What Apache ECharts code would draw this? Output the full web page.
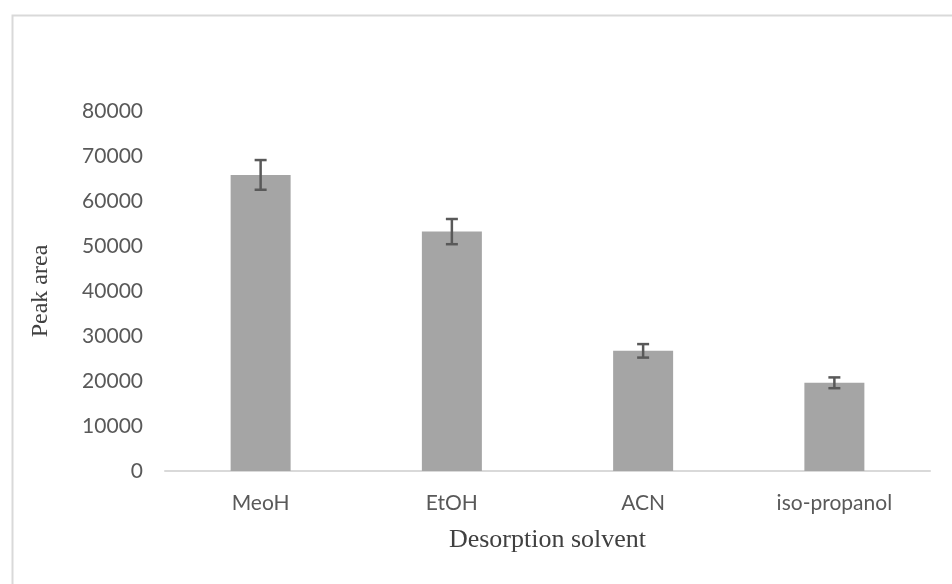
<!DOCTYPE html>
<html>
<head>
<meta charset="utf-8">
<script src="https://cdn.jsdelivr.net/npm/echarts@6/dist/echarts.min.js"></script>
<style>html,body{margin:0;padding:0;background:#fff}#c{width:952px;height:584px}</style>
</head>
<body>
<div id="c"></div>
<script>
var categories = ['MeoH', 'EtOH', 'ACN', 'iso-propanol'];
var peakArea = [65800, 53200, 26700, 19600];
var errorPlusMinus = [3300, 2800, 1500, 1200];
var yTicks = [0, 10000, 20000, 30000, 40000, 50000, 60000, 70000, 80000];

var chart = echarts.init(document.getElementById('c'));
var errData = categories.map(function (c, i) {
  return [i, peakArea[i] - errorPlusMinus[i], peakArea[i] + errorPlusMinus[i]];
});
chart.setOption({
  animation: false,
  backgroundColor: '#fff',
  graphic: [{
    type: 'rect', left: 10, top: 13, shape: { width: 1000, height: 700 },
    style: { fill: 'none', stroke: '#d9d9d9', lineWidth: 2 }, silent: true
  }],
  grid: { left: 165, right: 22, top: 111, bottom: 113 },
  xAxis: {
    type: 'category', data: categories,
    axisLine: { lineStyle: { color: '#d9d9d9', width: 2 } },
    axisTick: { show: false },
    axisLabel: { color: '#595959', fontSize: 21, fontFamily: 'Lato', margin: 22 },
    name: 'Desorption solvent', nameLocation: 'middle', nameGap: 56,
    nameTextStyle: { color: '#404040', fontSize: 26, fontFamily: 'Liberation Serif' }
  },
  yAxis: {
    type: 'value', min: yTicks[0], max: yTicks[yTicks.length - 1], interval: 10000,
    axisLine: { show: false }, axisTick: { show: false },
    splitLine: { show: false },
    axisLabel: { color: '#595959', fontSize: 21, fontFamily: 'Lato', margin: 22,
      formatter: function (v) { return String(v); } },
    name: 'Peak area', nameLocation: 'middle', nameGap: 112,
    nameTextStyle: { color: '#404040', fontSize: 24, fontFamily: 'Liberation Serif' }
  },
  series: [{
    type: 'bar', data: peakArea, barWidth: 60,
    itemStyle: { color: '#a5a5a5' }
  }, {
    type: 'custom', data: errData,
    renderItem: function (params, api) {
      var x = api.value(0);
      var lo = api.coord([x, api.value(1)]);
      var hi = api.coord([x, api.value(2)]);
      var hw = 6;
      var st = { stroke: '#595959', lineWidth: 2.5 };
      return {
        type: 'group', children: [
          { type: 'line', shape: { x1: lo[0], y1: lo[1], x2: hi[0], y2: hi[1] }, style: st },
          { type: 'line', shape: { x1: lo[0] - hw, y1: lo[1], x2: lo[0] + hw, y2: lo[1] }, style: st },
          { type: 'line', shape: { x1: hi[0] - hw, y1: hi[1], x2: hi[0] + hw, y2: hi[1] }, style: st }
        ]
      };
    },
    z: 10
  }]
});
</script>
</body>
</html>
